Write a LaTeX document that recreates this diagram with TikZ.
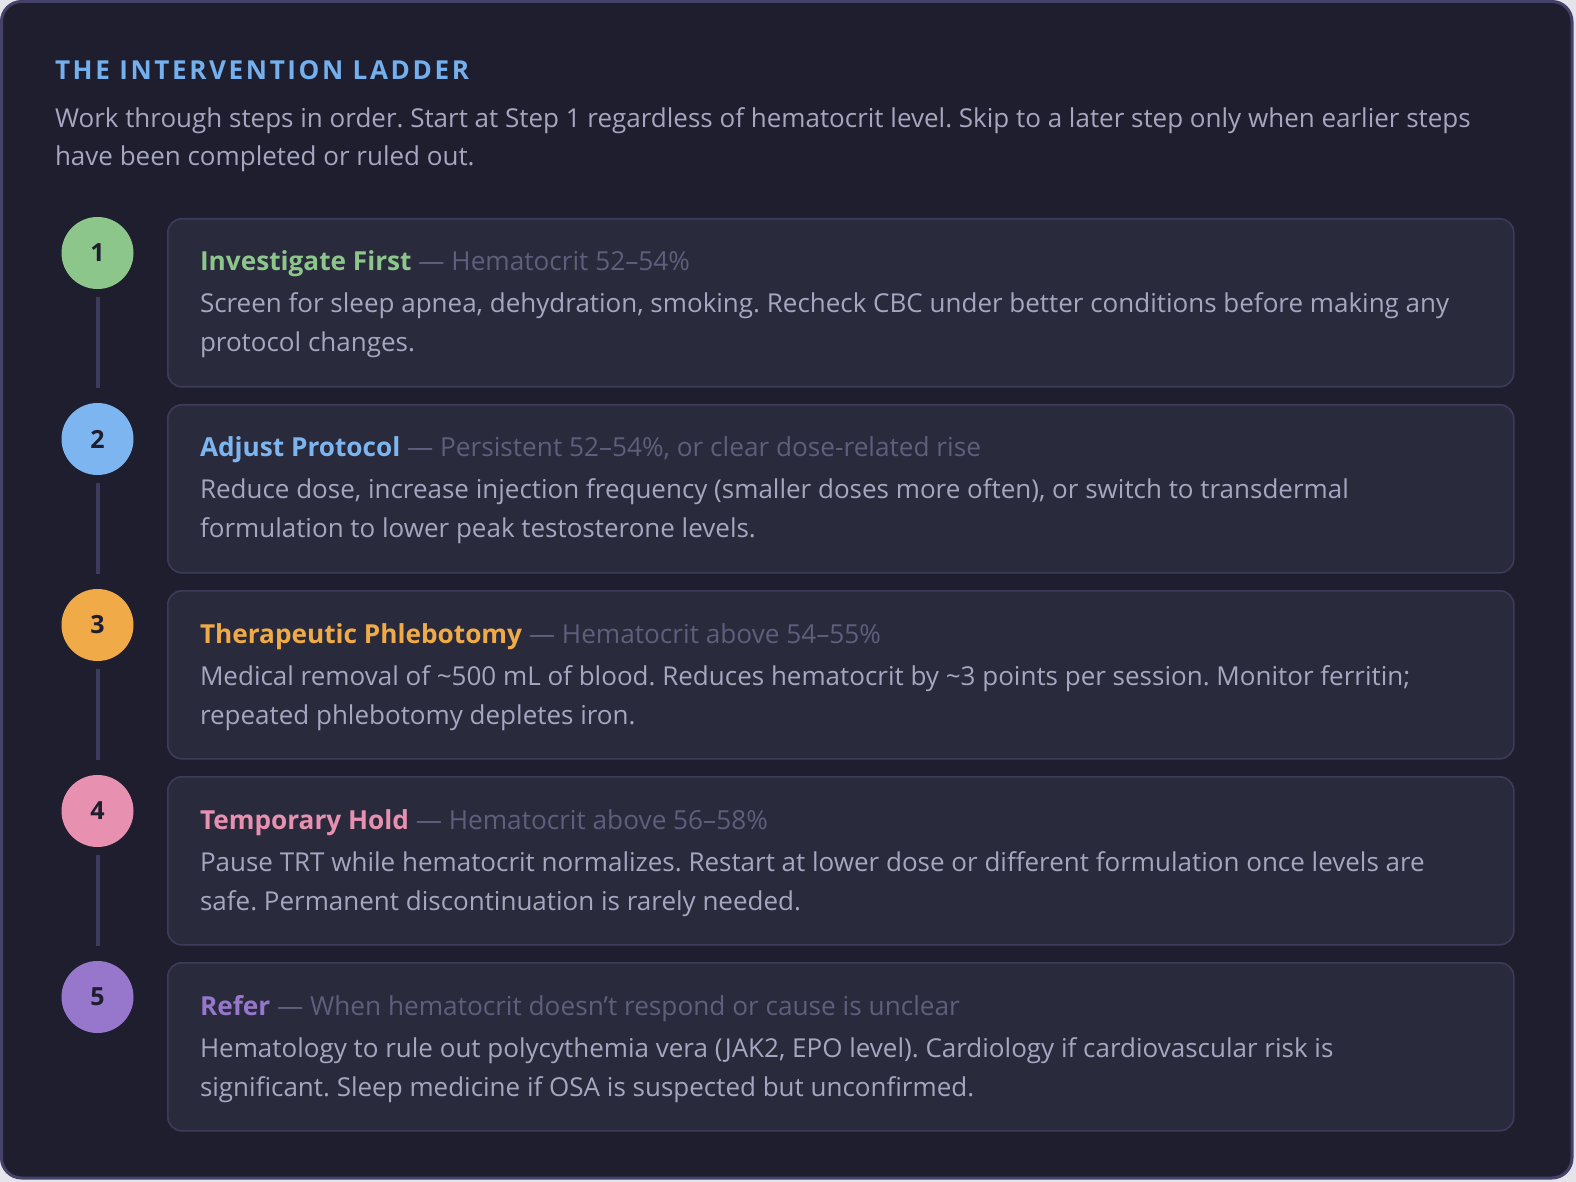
\documentclass[tikz,border=0pt]{standalone}
\usepackage{fontspec}
\setmainfont{Open Sans}
\newfontfamily\titlefont[LetterSpace=10]{Open Sans}
\definecolor{outside}{HTML}{E4E4EA}
\definecolor{panelbg}{HTML}{1E1E2E}
\definecolor{panelbd}{HTML}{45426A}
\definecolor{cardbg}{HTML}{2A2A3D}
\definecolor{cardbd}{HTML}{3D3B5A}
\definecolor{connc}{HTML}{3D3B5E}
\definecolor{titlec}{HTML}{74B0EE}
\definecolor{bodyc}{HTML}{A6A6C0}
\definecolor{subc}{HTML}{5F5E7C}
\definecolor{numc}{HTML}{1E1E2E}
\definecolor{cgreen}{HTML}{8DC68A}
\definecolor{cblue}{HTML}{7DB5F0}
\definecolor{corange}{HTML}{F0AA48}
\definecolor{cpink}{HTML}{E890B0}
\definecolor{cpurple}{HTML}{9677CC}
\tikzset{
  txt/.style={anchor=base west, inner sep=0pt, outer sep=0pt},
  bodytxt/.style={txt, text=bodyc, font=\fontsize{13}{15}\selectfont},
  cardbox/.style={draw=cardbd, line width=0.8pt, fill=cardbg, rounded corners=7pt,
    anchor=north west, minimum width=673pt, minimum height=84pt, inner sep=0pt},
  dot/.style={circle, minimum size=36pt, inner sep=0pt, text=numc,
    font=\bfseries\fontsize{12.5}{14}\selectfont},
  conn/.style={draw=connc, line width=2pt}
}
\newcommand{\ladderrow}[6]{%
  \pgfmathsetmacro\ytop{218+186*(#1-1)}
  \node[cardbox] (k#1) at (167,\ytop) {};
  \node[dot, fill=#2] (c#1) at (97.5,\ytop+35) {#1};
  \node[txt, font=\fontsize{13.1}{15}\selectfont] (h#1) at (200,\ytop+53)
    {\frenchspacing\textcolor{#2}{\bfseries #3}\textcolor{subc}{\ — #4}};
  \node[bodytxt] (a#1) at (200,\ytop+95) {\frenchspacing #5};
  \node[bodytxt] (b#1) at (200,\ytop+134) {\frenchspacing #6};
}
\begin{document}
\begin{tikzpicture}[x=0.5pt,y=-0.5pt]
\useasboundingbox (0,0) rectangle (1576,1182);
\fill[outside] (0,0) rectangle (1576,1182);
\draw[fill=panelbg, draw=panelbd, line width=1.5pt, rounded corners=10pt] (1.5,1.5) rectangle (1572,1178);
\node[txt, text=titlec, font=\titlefont\bfseries\fontsize{13.05}{16}\selectfont] (title) at (55,80) {THE INTERVENTION LADDER};
\node[bodytxt] (d1) at (55,128) {\frenchspacing Work through steps in order. Start at Step 1 regardless of hematocrit level. Skip to a later step only when earlier steps};
\node[bodytxt] (d2) at (55,166) {\frenchspacing have been completed or ruled out.};
\ladderrow{1}{cgreen}{Investigate First}{Hematocrit 52–54\%}{Screen for sleep apnea, dehydration, smoking. Recheck CBC under better conditions before making any}{protocol changes.}
\ladderrow{2}{cblue}{Adjust Protocol}{Persistent 52–54\%, or clear dose-related rise}{Reduce dose, increase injection frequency (smaller doses more often), or switch to transdermal}{formulation to lower peak testosterone levels.}
\ladderrow{3}{corange}{Therapeutic Phlebotomy}{Hematocrit above 54–55\%}{Medical removal of \textasciitilde 500 mL of blood. Reduces hematocrit by \textasciitilde 3 points per session. Monitor ferritin;}{repeated phlebotomy depletes iron.}
\ladderrow{4}{cpink}{Temporary Hold}{Hematocrit above 56–58\%}{Pause TRT while hematocrit normalizes. Restart at lower dose or different formulation once levels are}{safe. Permanent discontinuation is rarely needed.}
\ladderrow{5}{cpurple}{Refer}{When hematocrit doesn’t respond or cause is unclear}{Hematology to rule out polycythemia vera (JAK2, EPO level). Cardiology if cardiovascular risk is}{significant. Sleep medicine if OSA is suspected but unconfirmed.}
\foreach \i/\j in {1/2,2/3,3/4,4/5}{
  \draw[conn] ([yshift=-4pt]c\i.south) -- (c\i.south |- k\i.south);
}
\end{tikzpicture}
\end{document}
